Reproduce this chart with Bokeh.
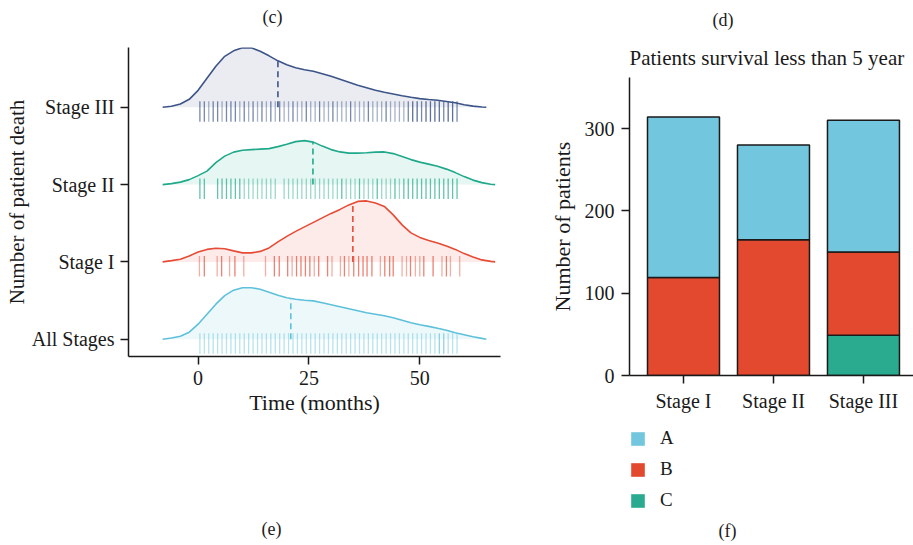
from bokeh.plotting import figure
from bokeh.layouts import row, column
from bokeh.models import (ColumnDataSource, FixedTicker, Range1d, Title, Label,
                          Legend, LegendItem)
from bokeh.embed import file_html
from bokeh.resources import INLINE

FONT = "Liberation Serif"
INK = "#1a1a1a"

# ---------------- (c) ridgeline of death times ----------------
ridge_labels = ["All Stages", "Stage I", "Stage II", "Stage III"]
ridge_colors = ["#5EC1DA", "#E64B35", "#1FA98A", "#3C5488"]

# density curves (height in density units, 77.3 units = one ridge step)
grid_a = [-8, -6, -4, -2, 0, 2, 4, 6, 8, 10, 12, 14, 16, 18, 20, 22, 24, 26, 28,
          30, 32, 34, 36, 38, 40, 42, 44, 46, 48, 50, 52, 54, 56, 58, 60, 62, 64, 65]
grid_b = [-8, -6, -4, -2, 0, 2, 4, 6, 8, 10, 12, 14, 16, 18, 20, 22, 24, 26, 28,
          30, 32, 34, 36, 38, 40, 42, 44, 46, 48, 50, 52, 54, 56, 58, 60, 62, 64, 66, 67]

dens_all = [0, 1.2, 3, 7, 15, 25, 35, 43.5, 49, 51.5, 51.5, 50, 47, 44, 41.5, 40, 39,
            38.3, 36.5, 34.5, 32.5, 30.5, 28.5, 26.5, 25, 23.5, 21.5, 19, 16.5, 14.5,
            12.8, 11, 9, 6.5, 4.5, 2.5, 0.8, 0]
dens_I = [0, 1.3, 2.7, 6, 10, 12.5, 13.7, 13.2, 11, 9, 9, 10.5, 14, 20, 25.5, 30.5,
          35, 39.5, 44, 48.5, 52.5, 57, 60.5, 61, 59, 55.5, 47, 37, 29, 24.5, 21.5,
          19, 16, 12.5, 8.3, 5, 2, 0.5, 0]
dens_II = [0, 1, 2.5, 5, 9, 13.5, 22, 28.5, 32.5, 34.3, 35, 35.5, 36, 38, 40.3, 43,
           44, 42.5, 38.5, 35, 32.7, 31.5, 31.5, 31.8, 32.5, 32.7, 31, 28, 25, 22.5,
           20.5, 18.3, 15.5, 12, 8, 4.5, 2, 0.3, 0]
dens_III = [0, 1, 3.3, 8, 17, 29, 41, 51, 56.5, 59.5, 59.5, 56, 51.5, 46.5, 42.5,
            39.5, 37.5, 36, 33.5, 31, 28, 25, 22, 19.5, 17, 15, 13.3, 11.5, 10, 8.7,
            7.8, 7, 5.8, 4.5, 2.5, 1.2, 0.3, 0]

median_months = [20.9, 34.9, 25.9, 18.0]

# death times (months) and number of patients at each time
death_all = [0.4, 1.4, 2.4, 3.4, 4.4, 5.4, 6.4, 7.4, 8.4, 9.4, 10.4, 11.4, 12.4, 13.4,
             14.4, 15.4, 16.4, 17.4, 18.4, 19.4, 20.4, 21.4, 22.4, 23.4, 24.4, 25.4,
             26.4, 27.4, 28.4, 29.4, 30.4, 31.4, 32.4, 33.4, 34.4, 35.4, 36.4, 37.4,
             38.4, 39.4, 40.4, 41.4, 42.4, 43.4, 44.4, 45.4, 46.4, 47.4, 48.4, 49.4,
             50.4, 51.4, 52.4, 53.4, 54.4, 55.4, 56.4, 57.4, 58.4]
count_all = [1, 1, 1, 1, 1, 1, 1, 1, 1, 1, 1, 1, 1, 1, 1, 1, 1, 1, 1, 1, 1, 1, 1, 1,
             1, 1, 1, 1, 1, 1, 1, 1, 1, 1, 1, 1, 1, 1, 1, 1, 1, 1, 1, 1, 1, 1, 1, 1,
             1, 1, 1, 1, 1, 1, 2, 2, 1, 1, 1]
death_I = [0.3, 1.4, 4.3, 5.3, 7.1, 8.3, 10.3, 15.2, 17.2, 18.3, 20.2, 21.2, 22.2,
           23.2, 24.2, 25.2, 26.2, 27.2, 29.2, 30.2, 32.1, 33.0, 34.0, 35.1, 36.2,
           37.2, 38.1, 39.2, 41.1, 42.1, 43.2, 44.0, 46.0, 47.0, 47.9, 49.0, 50.0,
           50.9, 53.0, 55.0, 56.0, 56.9, 59.0]
count_I = [1, 2, 1, 2, 1, 2, 1, 1, 2, 2, 2, 1, 2, 2, 2, 2, 1, 2, 2, 1, 1, 2, 1, 2, 2,
           2, 2, 2, 1, 2, 2, 2, 1, 1, 2, 1, 1, 2, 2, 1, 2, 1, 1]
death_II = [0.4, 1.4, 4.4, 5.4, 6.4, 7.4, 8.4, 9.4, 10.4, 11.4, 12.4, 13.4, 14.4,
            15.4, 16.4, 17.4, 19.4, 20.4, 21.4, 22.4, 23.4, 24.4, 25.4, 26.4, 27.4,
            28.4, 29.4, 30.4, 31.4, 32.4, 33.4, 34.4, 35.4, 36.4, 37.4, 38.4, 39.4,
            40.4, 41.4, 42.4, 43.4, 44.4, 45.4, 46.4, 47.4, 48.4, 49.4, 50.4, 51.4,
            52.4, 53.4, 54.4, 55.4, 56.4, 57.4, 58.4]
count_II = [2, 2, 2, 2, 2, 2, 2, 2, 1, 1, 1, 1, 1, 1, 1, 1, 1, 1, 1, 1, 1, 1, 1, 1,
            1, 1, 1, 1, 1, 2, 1, 1, 1, 2, 1, 1, 1, 2, 1, 1, 1, 2, 1, 2, 2, 2, 2, 2,
            2, 2, 2, 2, 2, 2, 2, 2]
death_III = [0.4, 1.4, 2.4, 3.4, 4.4, 5.4, 6.4, 7.4, 8.4, 9.4, 10.4, 11.4, 12.4, 13.4,
             14.4, 15.4, 16.4, 17.4, 18.4, 19.4, 20.4, 21.4, 22.4, 23.4, 24.4, 25.4,
             26.4, 27.4, 28.4, 29.4, 30.4, 31.4, 32.4, 33.4, 34.4, 35.4, 36.4, 37.4,
             38.4, 39.4, 40.4, 41.4, 42.4, 43.4, 44.4, 45.4, 46.4, 47.4, 48.4, 49.4,
             50.4, 51.4, 52.4, 53.4, 54.4, 55.4, 56.4, 57.4, 58.4]
count_III = [2, 2, 1, 2, 2, 1, 2, 2, 2, 1, 2, 1, 2, 1, 2, 1, 2, 1, 2, 1, 1, 2, 1, 1,
             2, 1, 1, 2, 1, 1, 2, 1, 1, 1, 2, 1, 1, 1, 2, 1, 1, 1, 2, 1, 1, 1, 1, 2,
             3, 3, 2, 3, 3, 3, 3, 2, 3, 3, 2]

month_ticks = [0, 25, 50]

# ---------------- (d) stacked bars ----------------
stages = ["Stage I", "Stage II", "Stage III"]
group_A = [195, 115, 160]
group_B = [119, 165, 101]
group_C = [0, 0, 49]
group_names = ["A", "B", "C"]
group_colors = ["#72C6DD", "#E2492F", "#2AAA8E"]
count_ticks = [0, 100, 200, 300]


def style_axis(ax):
    ax.axis_line_color = INK
    ax.axis_line_width = 1.5
    ax.major_tick_line_color = INK
    ax.major_tick_line_width = 1.5
    ax.major_tick_in = 0
    ax.major_tick_out = 8
    ax.minor_tick_line_color = None
    ax.major_label_text_font = FONT
    ax.major_label_text_font_size = "20px"
    ax.major_label_text_color = INK
    ax.major_label_standoff = 6
    ax.axis_label_text_font = FONT
    ax.axis_label_text_font_size = "22px"
    ax.axis_label_text_font_style = "normal"
    ax.axis_label_text_color = INK
    ax.axis_label_standoff = 5


def panel_title(text, offset, standoff, size="18px"):
    return Title(text=text, align="left", offset=offset, standoff=standoff,
                 text_font=FONT, text_font_size=size, text_font_style="normal",
                 text_color=INK)


RIDGE_STEP = 77.3
RUG_LOW, RUG_HIGH = -14.5 / RIDGE_STEP, 6 / RIDGE_STEP
TICK_ALPHA = 0.45

pc = figure(width=540, height=545, output_backend="svg", toolbar_location=None,
            x_range=Range1d(-15.7, 68.2), y_range=Range1d(-0.224, 3.774),
            min_border_left=128, min_border_right=40,
            min_border_top=47, min_border_bottom=189, frame_align=False)
pc.outline_line_color = None
pc.grid.visible = False

ridges = [
    (grid_a, dens_all, death_all, count_all),
    (grid_b, dens_I, death_I, count_I),
    (grid_b, dens_II, death_II, count_II),
    (grid_a, dens_III, death_III, count_III),
]

# top ridge first so lower ridges sit on top of it
for idx in [3, 2, 1, 0]:
    grid, dens, times, counts = ridges[idx]
    color = ridge_colors[idx]
    top = [idx + d / RIDGE_STEP for d in dens]
    pc.varea(x=grid, y1=[idx] * len(grid), y2=top, fill_color=color, fill_alpha=0.11)
    alphas = [1 - (1 - TICK_ALPHA) ** n for n in counts]
    pc.segment(x0=times, y0=[idx + RUG_LOW] * len(times), x1=times,
               y1=[idx + RUG_HIGH] * len(times), line_color=color,
               line_alpha=alphas, line_width=1.3)
    pc.line(x=grid, y=top, line_color=color, line_width=1.6)
    med = median_months[idx]
    # height of the curve at the median
    j = next(k for k in range(len(grid)) if grid[k] >= med)
    f = (med - grid[j - 1]) / (grid[j] - grid[j - 1])
    h = dens[j - 1] + f * (dens[j] - dens[j - 1])
    pc.segment(x0=[med], y0=[idx], x1=[med], y1=[idx + h / RIDGE_STEP],
               line_color=color, line_width=1.6, line_dash="6 4")

pc.xaxis.ticker = FixedTicker(ticks=month_ticks)
pc.yaxis.ticker = FixedTicker(ticks=[0, 1, 2, 3])
pc.yaxis.major_label_overrides = {i: lab for i, lab in enumerate(ridge_labels)}
pc.xaxis.axis_label = "Time (months)"
pc.yaxis.axis_label = "Number of patient death"
style_axis(pc.xaxis[0])
style_axis(pc.yaxis[0])
pc.xaxis.axis_label_standoff = 2
pc.yaxis.axis_label_text_font_size = "21px"
pc.yaxis.axis_label_standoff = 0
pc.yaxis.major_label_standoff = 6

# panel letters: a blank spacer title keeps each letter clear of the axes
pc.add_layout(panel_title(" ", 0, 8, "10px"), "above")
pc.add_layout(panel_title("(c)", 134, 0), "above")
pc.add_layout(panel_title(" ", 0, 73), "below")
pc.add_layout(panel_title("(e)", 133, 8), "below")

# ---------------- bars ----------------
bar_src = ColumnDataSource(dict(x=[0, 1, 2], A=group_A, B=group_B, C=group_C))

pd_ = figure(width=373, height=415, output_backend="svg", toolbar_location=None,
             x_range=Range1d(-0.6, 2.556), y_range=Range1d(0, 362),
             min_border_left=89, min_border_right=0,
             min_border_top=77, min_border_bottom=40, frame_align=False)
pd_.outline_line_color = None
pd_.grid.visible = False

pd_.vbar_stack(["C", "B", "A"], x="x", width=0.8, source=bar_src,
               fill_color=[group_colors[2], group_colors[1], group_colors[0]],
               line_color=INK, line_width=1.5)

pd_.xaxis.ticker = FixedTicker(ticks=[0, 1, 2])
pd_.xaxis.major_label_overrides = {i: s for i, s in enumerate(stages)}
pd_.yaxis.ticker = FixedTicker(ticks=count_ticks)
pd_.yaxis.axis_label = "Number of patients"
style_axis(pd_.xaxis[0])
style_axis(pd_.yaxis[0])
pd_.yaxis.axis_label_standoff = 7
pd_.yaxis.major_label_standoff = 7

pd_.add_layout(panel_title("Patients survival less than 5 year", 0, 15, "21px"), "above")
pd_.add_layout(panel_title("(d)", 83, 13), "above")

# legend strip under the bars
leg_fig = figure(width=373, height=130, output_backend="svg", toolbar_location=None,
                 x_range=Range1d(0, 1), y_range=Range1d(0, 1),
                 x_axis_type=None, y_axis_type=None,
                 min_border_left=0, min_border_right=0, min_border_top=0,
                 min_border_bottom=0, frame_align=False)
leg_fig.outline_line_color = None
leg_fig.grid.visible = False

# legend swatches: hidden bars per group supply the legend glyphs
items = []
for name, color in zip(group_names, group_colors):
    r = leg_fig.vbar(x=[0.5], top=[1], width=0.8, fill_color=color, line_color=None,
                     visible=False)
    items.append(LegendItem(label=name, renderers=[r]))
legend = Legend(items=items, location=(89, 34), orientation="vertical",
                glyph_width=17, glyph_height=17, label_standoff=14, spacing=9,
                label_height=17, padding=0, margin=0,
                label_text_font=FONT, label_text_font_size="19px",
                label_text_color=INK, border_line_color=None,
                background_fill_alpha=0, inactive_fill_alpha=0)
leg_fig.add_layout(legend)
leg_fig.add_layout(Label(x=187, y=15, x_units="screen", y_units="screen", text="(f)",
                         text_align="center", text_baseline="middle", text_font=FONT,
                         text_font_size="18px", text_color=INK))

layout = row(pc, column(pd_, leg_fig))
open("out.html", "w").write(file_html(layout, INLINE))
